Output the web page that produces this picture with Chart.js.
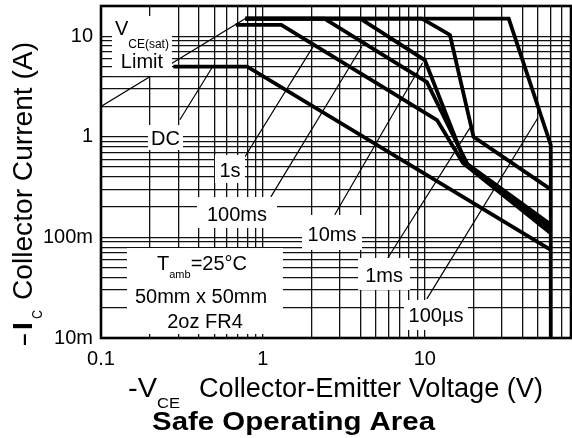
<!DOCTYPE html>
<html>
<head>
<meta charset="utf-8">
<script src="https://cdn.jsdelivr.net/npm/chart.js@4"></script>
<style>
html,body{margin:0;padding:0;background:#fff;}
#c{display:block;}
</style>
</head>
<body>
<canvas id="c" width="572" height="438"></canvas>
<script>
// ---------------- DATA ----------------
// axis ticks
const xTickValues = [0.1, 1, 10];
const xTickLabels = ['0.1', '1', '10'];
const yTickValues = [0.01, 0.1, 1, 10];
const yTickLabels = ['10m', '100m', '1', '10'];
const xMin = 0.1, xMax = 80;
const yMin = 0.01, yMax = 20;

// SOA curves: -VCE (V) and -IC (A)
const dcV    = [0.28, 0.8, 60];
const dcI    = [5, 5, 0.075];
const s1V    = [0.68, 1.3, 11.9, 17.2, 60];
const s1I    = [13, 13, 1.47, 0.55, 0.11];
const ms100V = [0.78, 2.4, 10.3, 18.5, 60];
const ms100I = [15, 15, 3.5, 0.52, 0.122];
const ms10V  = [0.78, 4.0, 10.0, 17.7, 60];
const ms10I  = [15, 15, 5.8, 0.56, 0.134];
const ms1V   = [0.78, 9.6, 14.3, 20, 60];
const ms1I   = [15, 15, 10.3, 1.0, 0.3];
const us100V = [0.78, 33, 60, 60];
const us100I = [15, 15, 0.83, 0.01];

// VCE(sat) limit line
const satV = [0.1, 0.78];
const satI = [2, 15];

// leader lines from labels to curves
const leadDcV    = [0.307, 0.49];  const leadDcI    = [1.48, 5];
const lead1sV    = [0.773, 2.09];  const lead1sI    = [0.63, 8.4];
const lead100msV = [1.12, 4.08];   const lead100msI = [0.253, 7.86];
const lead10msV  = [2.78, 9.7];    const lead10msI  = [0.168, 5.45];
const lead1msV   = [5.91, 19];     const lead1msI   = [0.0625, 1.23];
const lead100usV = [10.3, 50];     const lead100usI = [0.0245, 1.55];

// ---------------- STYLE / LAYOUT ----------------
const FONT = "'Liberation Sans', Arial, Helvetica, sans-serif";
const BOLD_W = 3.8, THIN_W = 1.2;

const pts = (v, i) => v.map((x, k) => ({x: x, y: i[k]}));
const series = [
  [dcV, dcI, BOLD_W], [s1V, s1I, BOLD_W], [ms100V, ms100I, BOLD_W],
  [ms10V, ms10I, BOLD_W], [ms1V, ms1I, BOLD_W], [us100V, us100I, BOLD_W],
  [satV, satI, THIN_W],
  [leadDcV, leadDcI, THIN_W], [lead1sV, lead1sI, THIN_W], [lead100msV, lead100msI, THIN_W],
  [lead10msV, lead10msI, THIN_W], [lead1msV, lead1msI, THIN_W], [lead100usV, lead100usI, THIN_W]
];
const datasets = series.map(([v, i, w]) => ({
  data: pts(v, i), showLine: true, borderColor: '#000', borderWidth: w,
  pointRadius: 0, tension: 0, fill: false, borderJoinStyle: 'miter', borderCapStyle: 'butt'
}));

// grid values: 1..9 per decade
const mults = [1,2,3,4,5,6,7,8,9];
function gridVals(lo, hi) {
  const out = [];
  for (let d = lo; d < hi * 1.0001; d *= 10) {
    mults.forEach(m => { const v = +(m * d).toPrecision(6); if (v >= lo * 0.9999 && v <= hi * 1.0001) out.push(v); });
  }
  return out;
}
function lab(v, vals, labels) {
  const k = vals.findIndex(t => Math.abs(t - v) / t < 1e-6);
  return k >= 0 ? labels[k] : '';
}
function noPad(s) { s.paddingLeft = 0; s.paddingRight = 0; s.paddingTop = 0; s.paddingBottom = 0; }

// annotation boxes (centre in data coords, size in px)
const boxes = [
  {x: 0.179, y: 8.0, w: 60, h: 60, lines: [
    {dy: -11, dx: 0, parts: [{t: 'V', s: 20}, {t: 'CE(sat)', s: 12, off: 13}]},
    {dy: 22, dx: 0, parts: [{t: 'Limit', s: 20}]}]},
  {x: 0.2503, y: 0.985, w: 35, h: 25, lines: [{dy: 7.5, parts: [{t: 'DC', s: 20}]}]},
  {x: 0.626, y: 0.479, w: 30, h: 28, lines: [{dy: 7.5, parts: [{t: '1s', s: 20}]}]},
  {x: 0.692, y: 0.177, w: 80, h: 31, lines: [{dy: 8.5, parts: [{t: '100ms', s: 20}]}]},
  {x: 0.439, y: 0.0293, w: 156, h: 86, lines: [
    {dy: -21, dx: -3, parts: [{t: 'T', s: 20}, {t: 'amb', s: 11, off: 8}, {t: '=25°C', s: 20}]},
    {dy: 12, dx: -4, parts: [{t: '50mm x 50mm', s: 20}]},
    {dy: 37, dx: 0, parts: [{t: '2oz FR4', s: 20}]}]},
  {x: 2.673, y: 0.112, w: 60, h: 35, lines: [{dy: 9, parts: [{t: '10ms', s: 20}]}]},
  {x: 5.60, y: 0.0433, w: 52, h: 32, lines: [{dy: 8, parts: [{t: '1ms', s: 20}]}]},
  {x: 11.73, y: 0.01692, w: 64, h: 30, lines: [{dy: 7, parts: [{t: '100µs', s: 20}]}]}
];

function drawParts(ctx, parts, cx, base) {
  let total = 0;
  parts.forEach(p => { ctx.font = p.s + 'px ' + FONT; total += ctx.measureText(p.t).width; });
  let x = cx - total / 2;
  ctx.textAlign = 'left'; ctx.textBaseline = 'alphabetic'; ctx.fillStyle = '#000';
  parts.forEach(p => {
    ctx.font = p.s + 'px ' + FONT;
    ctx.fillText(p.t, x, base + (p.off || 0));
    x += ctx.measureText(p.t).width;
  });
}
// stretched text piece: left x, baseline y, target width
function piece(ctx, t, font, x, y, w) {
  ctx.save();
  ctx.font = font; ctx.textAlign = 'left'; ctx.textBaseline = 'alphabetic'; ctx.fillStyle = '#000';
  const nat = ctx.measureText(t).width;
  ctx.translate(x, y);
  ctx.scale(w / nat, 1);
  ctx.fillText(t, 0, 0);
  ctx.restore();
}

const overlay = {
  id: 'overlay',
  afterDatasetsDraw(chart) {
    const ctx = chart.ctx, xs = chart.scales.x, ys = chart.scales.y;
    ctx.save();
    boxes.forEach(b => {
      const cx = xs.getPixelForValue(b.x), cy = ys.getPixelForValue(b.y);
      ctx.fillStyle = '#fff';
      ctx.fillRect(cx - b.w / 2, cy - b.h / 2, b.w, b.h);
      b.lines.forEach(l => drawParts(ctx, l.parts, cx + (l.dx || 0), cy + l.dy));
    });
    ctx.restore();
  },
  afterDraw(chart) {
    const ctx = chart.ctx, a = chart.chartArea;
    ctx.save();
    ctx.strokeStyle = '#000'; ctx.lineWidth = 2.6;
    ctx.strokeRect(a.left, a.top, a.right - a.left, a.bottom - a.top);
    // x axis title
    piece(ctx, '-V', '27px ' + FONT, 128, 397, 29);
    piece(ctx, 'CE', '15px ' + FONT, 157, 408, 23);
    piece(ctx, 'Collector-Emitter Voltage (V)', '27px ' + FONT, 199, 397, 344);
    // chart title
    piece(ctx, 'Safe Operating Area', 'bold 26px ' + FONT, 152, 430, 283);
    // y axis title (rotated)
    ctx.save();
    ctx.rotate(-Math.PI / 2);
    piece(ctx, '-I', '27px ' + FONT, -347, 32, 27);
    piece(ctx, 'C', '14px ' + FONT, -319, 42, 9);
    piece(ctx, 'Collector Current (A)', '27px ' + FONT, -300, 32, 258);
    ctx.restore();
    ctx.restore();
  }
};

new Chart(document.getElementById('c'), {
  type: 'scatter',
  data: {datasets: datasets},
  options: {
    responsive: false, animation: false, devicePixelRatio: 1,
    layout: {padding: {left: 0, top: 6, right: 1, bottom: 0}},
    plugins: {legend: {display: false}, tooltip: {enabled: false}, title: {display: false}},
    scales: {
      x: {
        type: 'logarithmic', min: xMin, max: xMax,
        afterBuildTicks: s => { s.ticks = gridVals(xMin, xMax).map(v => ({value: v})); },
        afterFit: s => { s.height = 100; noPad(s); },
        grid: {color: '#111', lineWidth: 1.3, drawTicks: false},
        border: {display: false},
        ticks: {autoSkip: false, maxRotation: 0, padding: 9, color: '#000',
          font: {family: FONT, size: 20},
          callback: v => lab(v, xTickValues, xTickLabels)}
      },
      y: {
        type: 'logarithmic', min: yMin, max: yMax,
        afterBuildTicks: s => { s.ticks = gridVals(yMin, yMax).map(v => ({value: v})); },
        afterFit: s => { s.width = 101; noPad(s); },
        grid: {color: '#111', lineWidth: 1.3, drawTicks: false},
        border: {display: false},
        ticks: {autoSkip: false, padding: 8, color: '#000',
          font: {family: FONT, size: 20},
          callback: v => lab(v, yTickValues, yTickLabels)}
      }
    }
  },
  plugins: [overlay]
});
</script>
</body>
</html>
